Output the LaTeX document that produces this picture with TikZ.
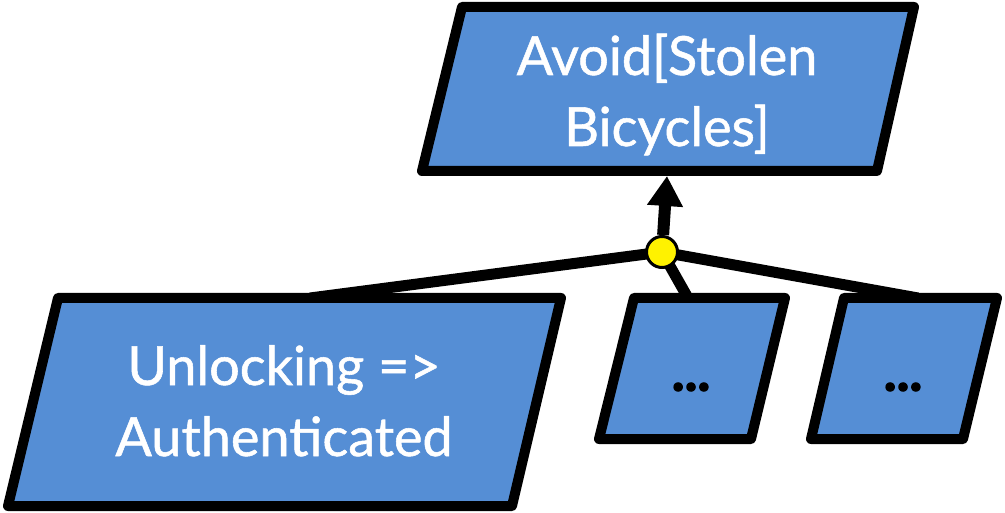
\documentclass[tikz,border=0pt]{standalone}
\usepackage{fontspec}
\setmainfont{Lato}
\usetikzlibrary{arrows.meta}
\definecolor{boxblue}{RGB}{85,142,213}
\pgfdeclarelayer{bg}
\pgfsetlayers{bg,main}
\begin{document}
\begin{tikzpicture}[x=1pt,y=-1pt,
  goalbox/.style={draw=black, fill=boxblue, line width=10pt, line join=round},
  goaltext/.style={text=white, anchor=base, inner sep=0pt, font=\fontsize{54}{71}\selectfont\addfontfeature{FakeBold=1}},
  dotstext/.style={text=black, inner sep=0pt, font=\fontsize{54}{60}\selectfont\bfseries\addfontfeature{FakeBold=2.5}},
  link/.style={draw=black, line width=11pt},
  andnode/.style={circle, draw=black, fill=yellow, line width=3pt, minimum size=31pt, inner sep=0pt}]
\useasboundingbox (0,0) rectangle (1005,513);
% goal boxes
\draw[goalbox] (462,7) -- (914,7) -- (877,171) -- (422,171) -- cycle;
\draw[goalbox] (58,298) -- (561,298) -- (512,506) -- (8,506) -- cycle;
\draw[goalbox] (634,298) -- (785,298) -- (751,439) -- (599,439) -- cycle;
\draw[goalbox] (844,298) -- (997,298) -- (963,439) -- (811,439) -- cycle;
% texts
\node[goaltext] (goal) at (667,75) {\begin{tabular}[t]{@{}c@{}}Avoid[Stolen\\Bicycles]\end{tabular}};
\node[goaltext] (sub1) at (284,385) {\begin{tabular}[t]{@{}c@{}}Unlocking =>\\Authenticated\end{tabular}};
\node[dotstext] (sub2) at (691,387) {...};
\node[dotstext] (sub3) at (903,387) {...};
% connection points
\coordinate (topin) at (667,176);
\coordinate (leftin) at (310,298);
\coordinate (midin) at (688,298);
\coordinate (rightin) at (918,298);
% and-refinement
\node[andnode] (and) at (662,252) {};
\begin{pgfonlayer}{bg}
\draw[link] (and.center) -- (leftin);
\draw[link] (and.center) -- (midin);
\draw[link] (and.center) -- (rightin);
\end{pgfonlayer}
\draw[link, line width=12pt, -{Triangle[width=34pt,length=30pt]}] (and) -- (topin);
\end{tikzpicture}
\end{document}
